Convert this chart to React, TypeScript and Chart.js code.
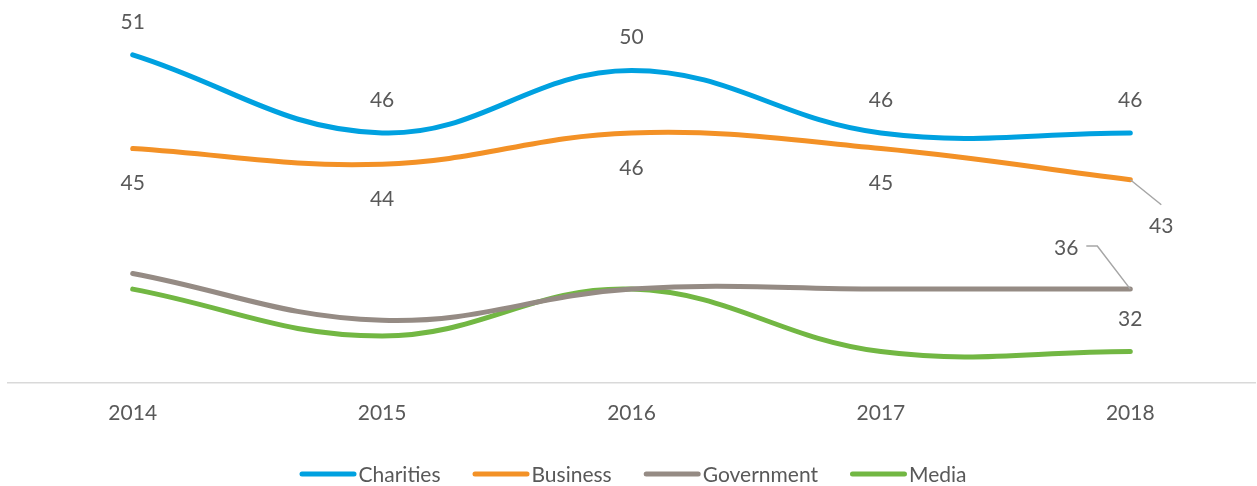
import React, { useEffect, useRef } from "react";
import { Chart, registerables } from "chart.js";

Chart.register(...registerables);

// ---- data ----
const categories = ["2014", "2015", "2016", "2017", "2018"];
const charities = [51, 46, 50, 46, 46];
const business = [45, 44, 46, 45, 43];
const government = [37, 34, 36, 36, 36];
const media = [36, 33, 36, 32, 32];
const seriesNames = ["Charities", "Business", "Government", "Media"];
const yMin = 30;
const yMax = 54;

// ---- style ----
const COLORS = ["#00A1E0", "#F39126", "#958B84", "#72B743"];
const TEXT = "#595959";
const FONT = "Lato";
const AXIS = "#D9D9D9";
const LEADER = "#A6A6A6";

type LabelSpec = { index: number; dx: number; dy: number; leader?: [number, number][] };
const labelLayout: Record<string, LabelSpec[]> = {
  Charities: [0, 1, 2, 3, 4].map((i) => ({ index: i, dx: 0, dy: -33 })),
  Business: [
    ...[0, 1, 2, 3].map((i) => ({ index: i, dx: 0, dy: 35 })),
    { index: 4, dx: 31, dy: 46, leader: [[0, 0], [31, 25]] as [number, number][] },
  ],
  Government: [
    { index: 4, dx: -64, dy: -41, leader: [[-44, -43], [-33, -43], [0, 0]] as [number, number][] },
  ],
  Media: [{ index: 4, dx: 0, dy: -32 }],
};

const valueLabelPlugin = {
  id: "valueLabels",
  afterDatasetsDraw(chart: any) {
    const ctx = chart.ctx;
    ctx.save();
    ctx.font = `21px ${FONT}`;
    ctx.textAlign = "center";
    ctx.textBaseline = "middle";
    chart.data.datasets.forEach((ds: any, di: number) => {
      const meta = chart.getDatasetMeta(di);
      const specs = labelLayout[ds.label] || [];
      specs.forEach((s) => {
        const pt = meta.data[s.index];
        if (!pt) return;
        const x = pt.x;
        const y = pt.y;
        if (s.leader) {
          ctx.strokeStyle = LEADER;
          ctx.lineWidth = 1.5;
          ctx.beginPath();
          s.leader.forEach(([lx, ly], k) => {
            if (k === 0) ctx.moveTo(x + lx, y + ly);
            else ctx.lineTo(x + lx, y + ly);
          });
          ctx.stroke();
        }
        ctx.fillStyle = TEXT;
        ctx.fillText(String(ds.data[s.index]), x + s.dx, y + s.dy);
      });
    });
    ctx.restore();
  },
};

const legendPlugin = {
  id: "customLegend",
  afterDraw(chart: any) {
    const ctx = chart.ctx;
    ctx.save();
    ctx.font = `21px ${FONT}`;
    const lineLen = 57;
    const gap = 2;
    const spacing = 32;
    const items = chart.data.datasets.map((ds: any) => ({
      label: ds.label,
      color: ds.borderColor,
      w: lineLen + gap + ctx.measureText(ds.label).width,
    }));
    const total = items.reduce((a: number, it: any) => a + it.w, 0) + spacing * (items.length - 1);
    let x = 633 - total / 2;
    const y = 474;
    items.forEach((it: any) => {
      ctx.strokeStyle = it.color;
      ctx.lineWidth = 5;
      ctx.lineCap = "round";
      ctx.beginPath();
      ctx.moveTo(x + 2.5, y);
      ctx.lineTo(x + lineLen - 2.5, y);
      ctx.stroke();
      ctx.fillStyle = TEXT;
      ctx.textAlign = "left";
      ctx.textBaseline = "middle";
      ctx.fillText(it.label, x + lineLen + gap, y + 1);
      x += it.w + spacing;
    });
    ctx.restore();
  },
};

export default function App() {
  const ref = useRef<HTMLCanvasElement | null>(null);
  useEffect(() => {
    document.body.style.margin = "0";
    if (!ref.current) return;
    const values = [charities, business, government, media];
    const chart = new Chart(ref.current, {
      type: "line",
      data: {
        labels: categories,
        datasets: seriesNames.map((name, i) => ({
          label: name,
          data: values[i],
          borderColor: COLORS[i],
          backgroundColor: COLORS[i],
          borderWidth: 5,
          borderCapStyle: "round" as const,
          borderJoinStyle: "round" as const,
          pointRadius: 0,
          pointHoverRadius: 0,
          tension: 0.4,
          fill: false,
        })),
      },
      options: {
        animation: false,
        responsive: false,
        maintainAspectRatio: false,
        layout: { padding: { top: 8, left: 8, right: 2, bottom: 42 } },
        plugins: {
          legend: { display: false },
          tooltip: { enabled: false },
        },
        scales: {
          x: {
            offset: true,
            grid: { display: false, drawTicks: false },
            border: { display: true, color: AXIS, width: 1.5 },
            ticks: { color: TEXT, font: { family: FONT, size: 21 }, padding: 18 },
          },
          y: {
            display: false,
            min: yMin,
            max: yMax,
          },
        },
      },
      plugins: [valueLabelPlugin, legendPlugin],
    });
    return () => chart.destroy();
  }, []);
  return (
    <div style={{ width: 1257, height: 486 }}>
      <canvas ref={ref} width={1257} height={486} style={{ display: "block" }} />
    </div>
  );
}
